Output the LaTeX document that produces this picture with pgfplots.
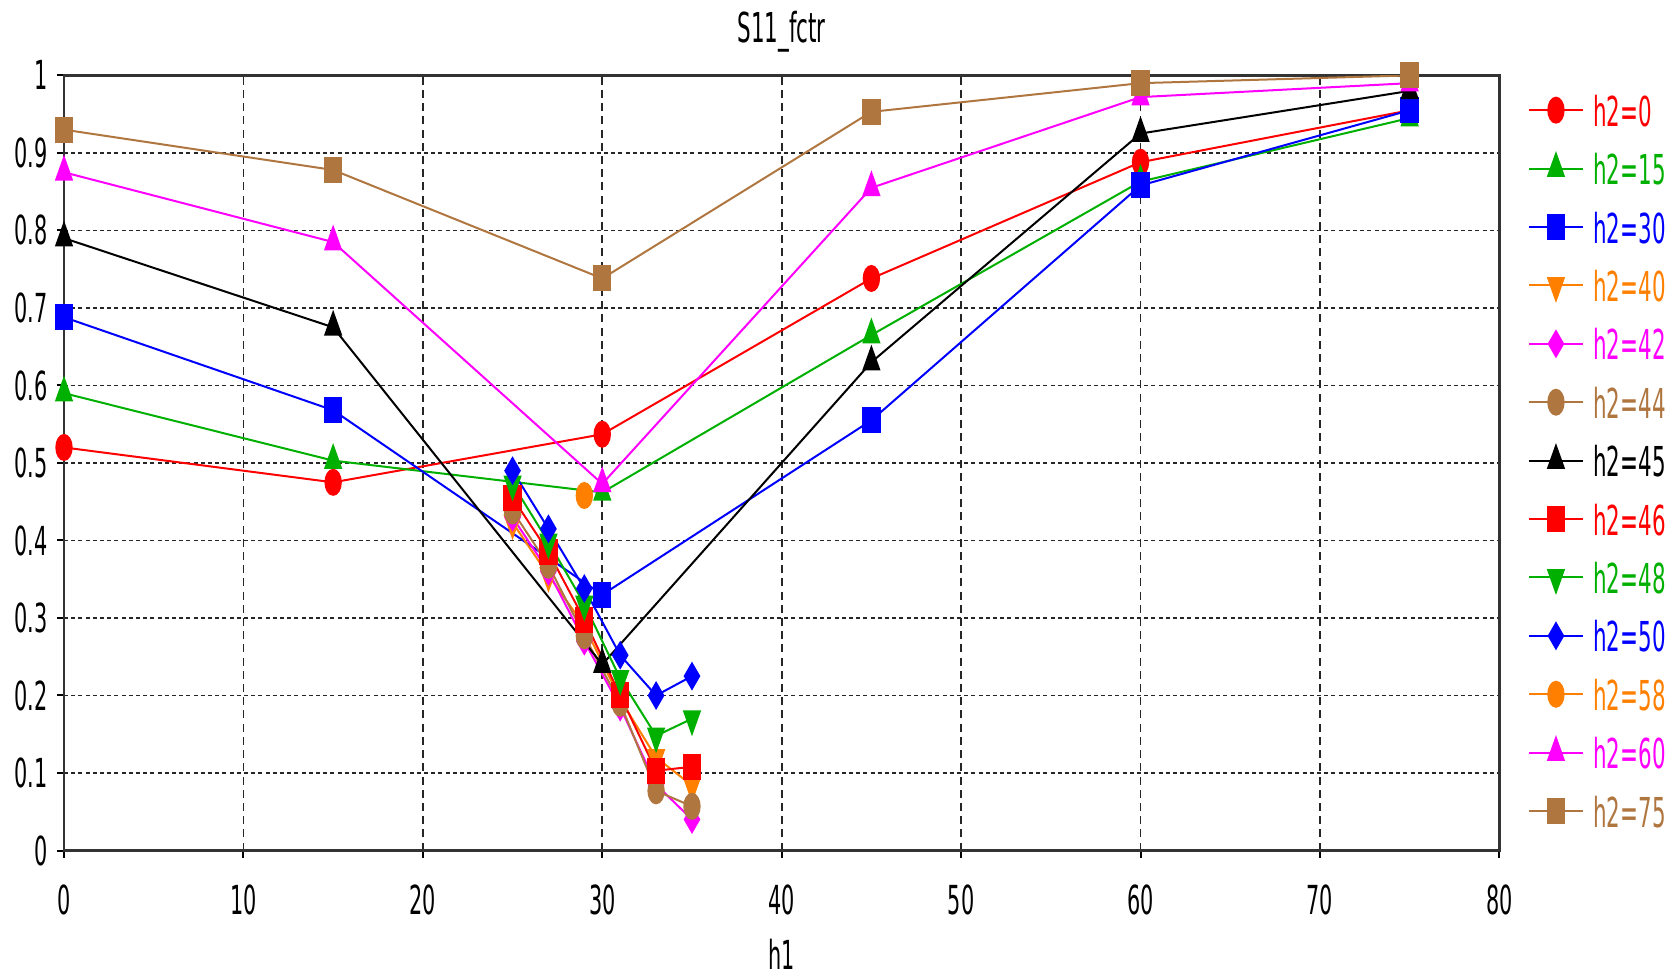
\documentclass[border=0pt]{standalone}
\usepackage{pgfplots}
\pgfplotsset{compat=1.18}
\usepackage{fontspec}
\setmainfont{DejaVu Sans}[FakeStretch=0.52]
\definecolor{cred}{RGB}{255,0,0}
\definecolor{cgreen}{RGB}{0,176,0}
\definecolor{cblue}{RGB}{0,0,255}
\definecolor{corange}{RGB}{255,128,0}
\definecolor{cmag}{RGB}{255,0,255}
\definecolor{cbrown}{RGB}{176,118,64}
\pgfplotsset{
  circ/.style={color=#1, mark=*, mark size=2.4pt, mark options={solid,fill=#1,xscale=0.8,yscale=1.3}},
  sq/.style={color=#1, mark=square*, mark size=2.4pt, mark options={solid,fill=#1,xscale=0.85,yscale=1.25}},
  tri/.style={color=#1, mark=triangle*, mark size=2.8pt, mark options={solid,fill=#1,xscale=0.8,yscale=1.3}},
  dtri/.style={color=#1, mark=triangle*, mark size=2.8pt, mark options={solid,fill=#1,xscale=0.8,yscale=1.3,rotate=180}},
  dia/.style={color=#1, mark=diamond*, mark size=2.4pt, mark options={solid,fill=#1,xscale=1,yscale=1.3}},
}
\begin{document}
\begin{tikzpicture}
\begin{axis}[
  at={(0,0)}, anchor=south west,
  scale only axis, width=358.8pt, height=193.75pt,
  xmin=0, xmax=80, ymin=0, ymax=1,
  xtick={0,10,20,30,40,50,60,70,80},
  ytick={0,0.1,0.2,0.3,0.4,0.5,0.6,0.7,0.8,0.9,1},
  yticklabels={0,0.1,0.2,0.3,0.4,0.5,0.6,0.7,0.8,0.9,1},
  xticklabels={0,10,20,30,40,50,60,70,80},
  tick align=outside, major tick length=1.75pt,
  xtick pos=bottom, ytick pos=left,
  tick style={black, line width=0.5pt},
  axis line style={line width=0.7pt, black!80},
  grid=major,
  major x grid style={black!85, line width=0.45pt, dash pattern=on 2pt off 1.3pt},
  major y grid style={black!85, line width=0.45pt, dash pattern=on 1pt off 0.8pt},
  tick label style={font=\fontsize{10}{12}\selectfont},
  yticklabel style={anchor=east, inner sep=0pt, xshift=-2.2pt},
  xticklabel style={anchor=center, inner sep=0pt, yshift=-10.5pt},
  title={S11\_fctr},
  title style={at={(0.5,1)}, anchor=center, yshift=5pt, font=\fontsize{10.3}{12}\selectfont},
  xlabel={h1},
  xlabel style={at={(0.5,0)}, anchor=center, yshift=-26pt, font=\fontsize{10}{12}\selectfont},
  every axis plot/.append style={line width=0.5pt},
  legend cell align=left,
  legend image code/.code={\draw[mark repeat=2,mark phase=2] plot coordinates {(0pt,0pt)(6.7pt,0pt)(13.4pt,0pt)};},
  legend style={at={(1.0195,0.9768)}, anchor=north west, draw=none, fill=none, inner sep=0pt,
    row sep=6.6pt, column sep=2.4pt,
    nodes={inner sep=0pt, text height=8pt, text depth=0pt},
    font=\fontsize{10.3}{12}\selectfont},
]
\addplot[circ=cred] coordinates {(0,0.52) (15,0.475) (30,0.537) (45,0.738) (60,0.888) (75,0.955)};
\addlegendentry{\textcolor{cred}{h2=0}}
\addplot[tri=cgreen] coordinates {(0,0.59) (15,0.503) (30,0.462) (45,0.665) (60,0.863) (75,0.945)};
\addlegendentry{\textcolor{cgreen}{h2=15}}
\addplot[sq=cblue] coordinates {(0,0.688) (15,0.568) (30,0.33) (45,0.555) (60,0.858) (75,0.955)};
\addlegendentry{\textcolor{cblue}{h2=30}}
\addplot[dtri=corange] coordinates {(25,0.423) (27,0.355) (29,0.29) (31,0.195) (33,0.12) (35,0.084)};
\addlegendentry{\textcolor{corange}{h2=40}}
\addplot[dia=cmag] coordinates {(25,0.43) (27,0.36) (29,0.27) (31,0.185) (33,0.085) (35,0.04)};
\addlegendentry{\textcolor{cmag}{h2=42}}
\addplot[circ=cbrown] coordinates {(25,0.438) (27,0.368) (29,0.277) (31,0.19) (33,0.077) (35,0.057)};
\addlegendentry{\textcolor{cbrown}{h2=44}}
\addplot[tri=black] coordinates {(0,0.79) (15,0.675) (30,0.24) (45,0.63) (60,0.925) (75,0.98)};
\addlegendentry{\textcolor{black}{h2=45}}
\addplot[sq=cred] coordinates {(25,0.455) (27,0.385) (29,0.298) (31,0.2) (33,0.103) (35,0.108)};
\addlegendentry{\textcolor{cred}{h2=46}}
\addplot[dtri=cgreen] coordinates {(25,0.473) (27,0.398) (29,0.318) (31,0.222) (33,0.148) (35,0.17)};
\addlegendentry{\textcolor{cgreen}{h2=48}}
\addplot[dia=cblue] coordinates {(25,0.49) (27,0.415) (29,0.338) (31,0.252) (33,0.2) (35,0.225)};
\addlegendentry{\textcolor{cblue}{h2=50}}
\addplot[circ=corange] coordinates {(29,0.458)};
\addlegendentry{\textcolor{corange}{h2=58}}
\addplot[tri=cmag] coordinates {(0,0.875) (15,0.785) (30,0.473) (45,0.855) (60,0.972) (75,0.99)};
\addlegendentry{\textcolor{cmag}{h2=60}}
\addplot[sq=cbrown] coordinates {(0,0.93) (15,0.878) (30,0.738) (45,0.953) (60,0.99) (75,1.0)};
\addlegendentry{\textcolor{cbrown}{h2=75}}
\end{axis}
\pgfresetboundingbox
\path[use as bounding box] (-16pt,-30.9pt) rectangle (403.2pt,212.6pt);
\end{tikzpicture}
\end{document}
